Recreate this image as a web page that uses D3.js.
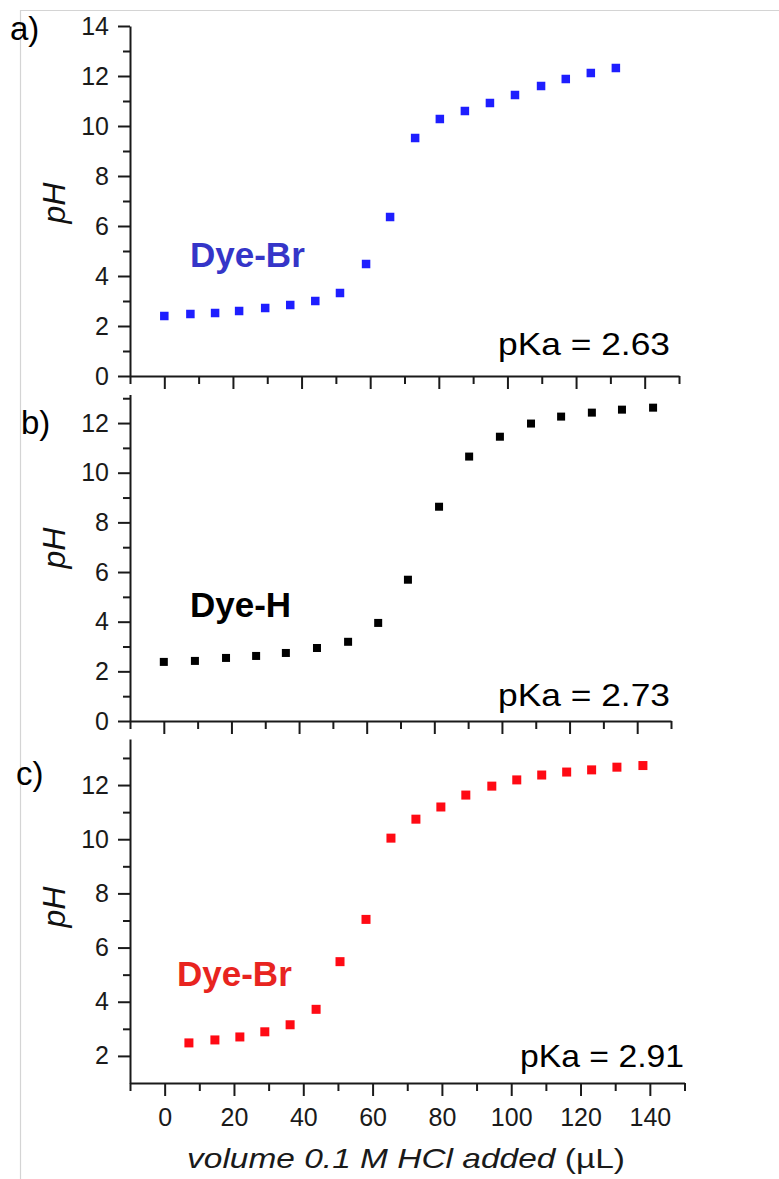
<!DOCTYPE html>
<meta charset="utf-8">
<html>
<head>
<style>
  body { margin: 0; background: #ffffff; }
  text { font-family: "Liberation Sans", Arial, Helvetica, sans-serif; }
</style>
</head>
<body>
<div id="chart"></div>

<script src="https://d3js.org/d3.v7.min.js"></script>

<script>

  // Values (volume in uL, pH)
  var volA = [0, 7.6, 14.8, 21.8, 29.4, 36.7, 44.0, 51.2, 58.8, 65.8, 73.1, 80.3, 87.6, 94.9, 102.2, 109.8, 117.0, 124.3, 131.6];
  var phA  = [2.40, 2.48, 2.52, 2.60, 2.72, 2.84, 3.00, 3.32, 4.48, 6.36, 9.52, 10.28, 10.60, 10.92, 11.24, 11.60, 11.88, 12.12, 12.32];

  var volB = [0, 9.2, 18.4, 27.3, 36.1, 45.3, 54.5, 63.4, 72.2, 81.4, 90.3, 99.4, 108.6, 117.5, 126.6, 135.5, 144.7];
  var phB  = [2.38, 2.42, 2.54, 2.62, 2.74, 2.94, 3.19, 3.95, 5.69, 8.63, 10.65, 11.45, 11.98, 12.26, 12.42, 12.54, 12.62];

  var volC = [7.0, 14.5, 21.7, 28.9, 36.2, 43.7, 50.6, 58.1, 65.3, 72.5, 79.7, 86.9, 94.4, 101.6, 108.8, 116.0, 123.2, 130.5, 138.0];
  var phC  = [2.48, 2.59, 2.70, 2.89, 3.15, 3.72, 5.48, 7.04, 10.04, 10.74, 11.19, 11.63, 11.96, 12.19, 12.37, 12.48, 12.56, 12.66, 12.72];

  // Tick values
  var xMajor = [0, 20, 40, 60, 80, 100, 120, 140];
  var xMinor = [-10, 10, 30, 50, 70, 90, 110, 130, 150];
  var yMajorA = [0, 2, 4, 6, 8, 10, 12, 14];
  var yMajorB = [0, 2, 4, 6, 8, 10, 12];
  var yMajorC = [2, 4, 6, 8, 10, 12];
  var yMinorAB = [1, 3, 5, 7, 9, 11, 13];
  var yMinorC = [3, 5, 7, 9, 11, 13];

  var panelLabels = ["a)", "b)", "c)"];
  var dyeNames = ["Dye-Br", "Dye-H", "Dye-Br"];
  var pkaTexts = ["pKa = 2.63", "pKa = 2.73", "pKa = 2.91"];

  var width = 779, height = 1179;

  var svg = d3.select("#chart")
    .append("svg")
      .attr("width", width)
      .attr("height", height);

  // faint edges of the pasted figure
  svg.append("line")
    .attr("x1", 20).attr("x2", width).attr("y1", 10.5).attr("y2", 10.5)
    .attr("stroke", "#d4d4d4").attr("stroke-width", 1.2);
  svg.append("line")
    .attr("x1", 20.5).attr("x2", 20.5).attr("y1", 10).attr("y2", height)
    .attr("stroke", "#d4d4d4").attr("stroke-width", 1.2);

  // layout of each panel
  var panels = [
    { vol: volA, ph: phA, color: "#1e1eff", textColor: "#3535c8", size: 8.5,
      x0: 130, x1: 679, yDom: [0, 14], yTop: 26, yBot: 376,
      yMajor: yMajorA, yMinor: yMinorAB,
      lab: [10, 40], dye: [190, 267], pka: [670, 355, 172], phPos: [65, 203] },
    { vol: volB, ph: phB, color: "#000000", textColor: "#000000", size: 8,
      x0: 130, x1: 671, yDom: [0, 13.15], yTop: 394.5, yBot: 721,
      yMajor: yMajorB, yMinor: yMinorAB,
      lab: [21, 434], dye: [190, 617], pka: [670, 706, 172], phPos: [65, 548] },
    { vol: volC, ph: phC, color: "#ff0a14", textColor: "#e82420", size: 9,
      x0: 130, x1: 684.5, yDom: [1, 13.7], yTop: 739, yBot: 1083,
      yMajor: yMajorC, yMinor: yMinorC,
      lab: [16, 785], dye: [177, 986], pka: [684, 1067, 164], phPos: [65, 907] }
  ];

  panels.forEach(function(p, i) {

    var x = d3.scaleLinear()
      .domain([-10, 150])
      .range([p.x0, p.x1]);

    var y = d3.scaleLinear()
      .domain(p.yDom)
      .range([p.yBot, p.yTop]);

    // Add X axis (labels only on the last panel)
    svg.append("g")
      .attr("transform", "translate(0," + p.yBot + ")")
      .call(d3.axisBottom(x)
        .tickValues(xMajor)
        .tickSize(13)
        .tickSizeOuter(0)
        .tickPadding(12)
        .tickFormat(i == 2 ? d3.format("d") : ""));
    svg.append("g")
      .attr("transform", "translate(0," + p.yBot + ")")
      .call(d3.axisBottom(x).tickValues(xMinor).tickSize(8).tickFormat(""))
      .call(function(g) { g.select(".domain").remove(); });

    // Add Y axis
    svg.append("g")
      .attr("transform", "translate(" + p.x0 + ",0)")
      .call(d3.axisLeft(y)
        .tickValues(p.yMajor)
        .tickSize(12)
        .tickSizeOuter(0)
        .tickPadding(9)
        .tickFormat(d3.format("d")));
    svg.append("g")
      .attr("transform", "translate(" + p.x0 + ",0)")
      .call(d3.axisLeft(y).tickValues(p.yMinor).tickSize(7).tickFormat(""))
      .call(function(g) { g.select(".domain").remove(); });

    // Label for Y axis
    svg.append("text")
      .attr("transform", "translate(" + p.phPos[0] + "," + p.phPos[1] + ") rotate(-90)")
      .attr("text-anchor", "middle")
      .attr("font-size", 32)
      .attr("font-style", "italic")
      .attr("fill", "#111")
      .text("pH");

    // the points
    svg.append("g")
      .selectAll("rect")
      .data(p.vol.map(function(v, k) { return { v: v, ph: p.ph[k] }; }))
      .enter()
      .append("rect")
        .attr("x", function(d) { return x(d.v) - p.size / 2; })
        .attr("y", function(d) { return y(d.ph) - p.size / 2; })
        .attr("width", p.size)
        .attr("height", p.size)
        .attr("fill", p.color);

    // panel letter, dye name, pKa
    svg.append("text")
      .attr("x", p.lab[0]).attr("y", p.lab[1])
      .attr("font-size", 33)
      .attr("fill", "#000")
      .text(panelLabels[i]);

    svg.append("text")
      .attr("x", p.dye[0]).attr("y", p.dye[1])
      .attr("font-size", 35)
      .attr("font-weight", "bold")
      .attr("fill", p.textColor)
      .text(dyeNames[i]);

    svg.append("text")
      .attr("x", p.pka[0]).attr("y", p.pka[1])
      .attr("text-anchor", "end")
      .attr("font-size", 32)
      .attr("textLength", p.pka[2])
      .attr("lengthAdjust", "spacingAndGlyphs")
      .attr("fill", "#000")
      .text(pkaTexts[i]);
  });

  // axis styling
  svg.selectAll(".domain, .tick line")
    .attr("stroke", "#1a1a1a")
    .attr("stroke-width", 2);
  svg.selectAll(".tick text")
    .attr("font-size", 25)
    .attr("font-family", "Liberation Sans, Arial, sans-serif")
    .attr("fill", "#1a1a1a");

  // Label for X axis
  var xl = svg.append("text")
    .attr("transform", "translate(406,1168) scale(1.24,1)")
    .attr("text-anchor", "middle")
    .attr("font-size", 27)
    .attr("fill", "#1a1a1a");
  xl.append("tspan").attr("font-style", "italic").text("volume 0.1 M HCl added ");
  xl.append("tspan").text("(\u00b5L)");

</script>
</body>
</html>
